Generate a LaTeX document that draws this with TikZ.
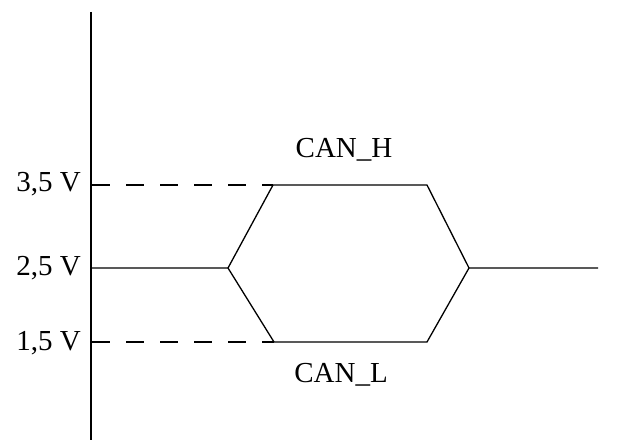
\documentclass[tikz,border=0pt]{standalone}
\usepackage{fontspec}
\setmainfont{Liberation Serif}
\begin{document}
\begin{tikzpicture}[x=1pt,y=-1pt,
  sig/.style={line width=1.3pt},
  axisline/.style={line width=1.8pt},
  levelline/.style={line width=1.3pt, dash pattern=on 18pt off 16pt},
  lbl/.style={font=\fontsize{29}{29}\selectfont, inner sep=0pt}]
\useasboundingbox (0,0) rectangle (623,446);
% axis
\coordinate (atop) at (91,12);
\coordinate (abot) at (91,440);
\draw[axisline] (atop) -- (abot);
% coordinates
\coordinate (h0) at (92,185);
\coordinate (m0) at (92,268);
\coordinate (l0) at (92,342);
\coordinate (fl) at (228,268);
\coordinate (h1) at (273,185);
\coordinate (h2) at (427,185);
\coordinate (l1) at (274,342);
\coordinate (l2) at (427,342);
\coordinate (fr) at (469,268);
\coordinate (m1) at (598,268);
% dashed levels
\draw[levelline] (h0) -- (h1);
\draw[levelline] (l0) -- (l1);
% signals
\draw[sig] (m0) -- (fl) -- (h1) -- (h2) -- (fr) -- (m1);
\draw[sig] (fl) -- (l1) -- (l2) -- (fr);
% labels
\node[lbl, anchor=base east] (v35) at (81,192) {3,5 V};
\node[lbl, anchor=base east] (v25) at (81,275) {2,5 V};
\node[lbl, anchor=base east] (v15) at (81,350) {1,5 V};
\node[lbl, anchor=base] (canh) at (344,158) {CAN\_H};
\node[lbl, anchor=base] (canl) at (341,382) {CAN\_L};
\end{tikzpicture}
\end{document}
